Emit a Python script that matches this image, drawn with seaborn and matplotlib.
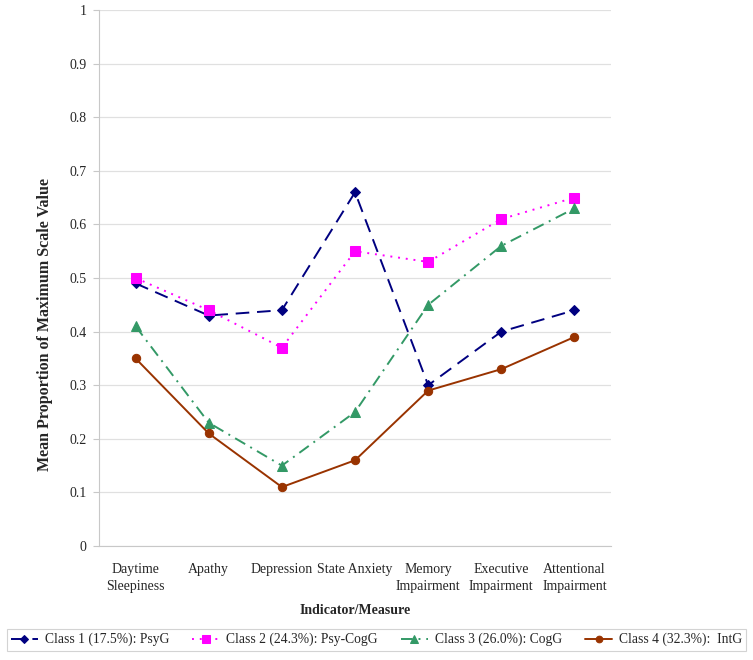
import numpy as np
import pandas as pd
import seaborn as sns
import matplotlib.pyplot as plt
from matplotlib.ticker import FixedLocator

# ---------------------data--------------------- #
categories = ["Daytime\nSleepiness", "Apathy", "Depression", "State Anxiety",
              "Memory\nImpairment", "Executive\nImpairment", "Attentional\nImpairment"]
class_names = ["Class 1 (17.5%): PsyG", "Class 2 (24.3%): Psy-CogG",
               "Class 3 (26.0%): CogG", "Class 4 (32.3%):  IntG"]
class1 = [0.49, 0.43, 0.44, 0.66, 0.30, 0.40, 0.44]
class2 = [0.50, 0.44, 0.37, 0.55, 0.53, 0.61, 0.65]
class3 = [0.41, 0.23, 0.15, 0.25, 0.45, 0.56, 0.63]
class4 = [0.35, 0.21, 0.11, 0.16, 0.29, 0.33, 0.39]

colors = ["#000080", "#FF00FF", "#339966", "#993300"]
markers = ["D", "s", "^", "o"]
dashes = [(7, 4), (1, 3), (6, 3, 1, 3), ""]
marker_sizes = [5, 7, 7, 6]

df = pd.DataFrame({"Indicator": categories * 4,
                   "pos": list(range(len(categories))) * 4,
                   "value": class1 + class2 + class3 + class4,
                   "Class": np.repeat(class_names, len(categories))})

# ---------------------set canvas--------------------- #
sns.set_style("white")
plt.rcParams["font.family"] = ["Liberation Serif", "DejaVu Serif"]
fig = plt.figure(figsize=(7.53, 6.60), dpi=100)
ax = fig.add_axes([0.1315, 0.1727, 0.68, 0.8121])

for name, c, m, d, ms in zip(class_names, colors, markers, dashes, marker_sizes):
    sub = df[df["Class"] == name]
    sns.lineplot(data=sub, x="pos", y="value", color=c, marker=m, markersize=ms,
                 markeredgecolor=c, linewidth=1.4, ax=ax, label=name)
    if d != "":
        ax.lines[-1].set_dashes(d)

ax.set_xlim(-0.5, len(categories) - 0.5)
ax.set_ylim(0, 1)
ax.set_yticks(np.arange(0, 1.01, 0.1))
ax.set_yticklabels(["0"] + [f"{v:.1f}" for v in np.arange(0.1, 0.95, 0.1)] + ["1"])
ax.set_xticks(range(len(categories)))
ax.set_xticklabels(categories, linespacing=1.4)
ax.xaxis.set_minor_locator(FixedLocator(np.arange(-0.5, len(categories), 1)))
ax.tick_params(axis="x", which="major", length=0, pad=12, labelsize=10)
ax.tick_params(axis="x", which="minor", length=4, color="#c8c8c8", width=0.8)
ax.tick_params(axis="y", length=4, color="#c8c8c8", width=0.8, labelsize=10, left=True, pad=5)
ax.grid(axis="y", color="#e0e0e0", linewidth=0.9)
ax.set_axisbelow(True)
for s in ["top", "right"]:
    ax.spines[s].set_visible(False)
for s in ["left", "bottom"]:
    ax.spines[s].set_color("#c8c8c8")
    ax.spines[s].set_linewidth(0.8)

ax.set_xlabel("Indicator/Measure", fontweight="bold", fontsize=10, labelpad=8)
ax.set_ylabel("Mean Proportion of Maximum Scale Value", fontweight="bold", fontsize=11.5)
ax.yaxis.set_label_coords(-0.09, 0.414)

handles, labels = ax.get_legend_handles_labels()
ax.get_legend().remove()
leg = fig.legend(handles, labels, loc="lower center", bbox_to_anchor=(0.5, 0.004), ncol=4,
                 fontsize=9.8, frameon=True, fancybox=False, edgecolor="#c8c8c8",
                 handlelength=2.0, handletextpad=0.5, columnspacing=1.7, borderpad=0.3,
                 markerscale=0.8)
leg.get_frame().set_linewidth(0.8)

plt.savefig("out.png", dpi=100)
